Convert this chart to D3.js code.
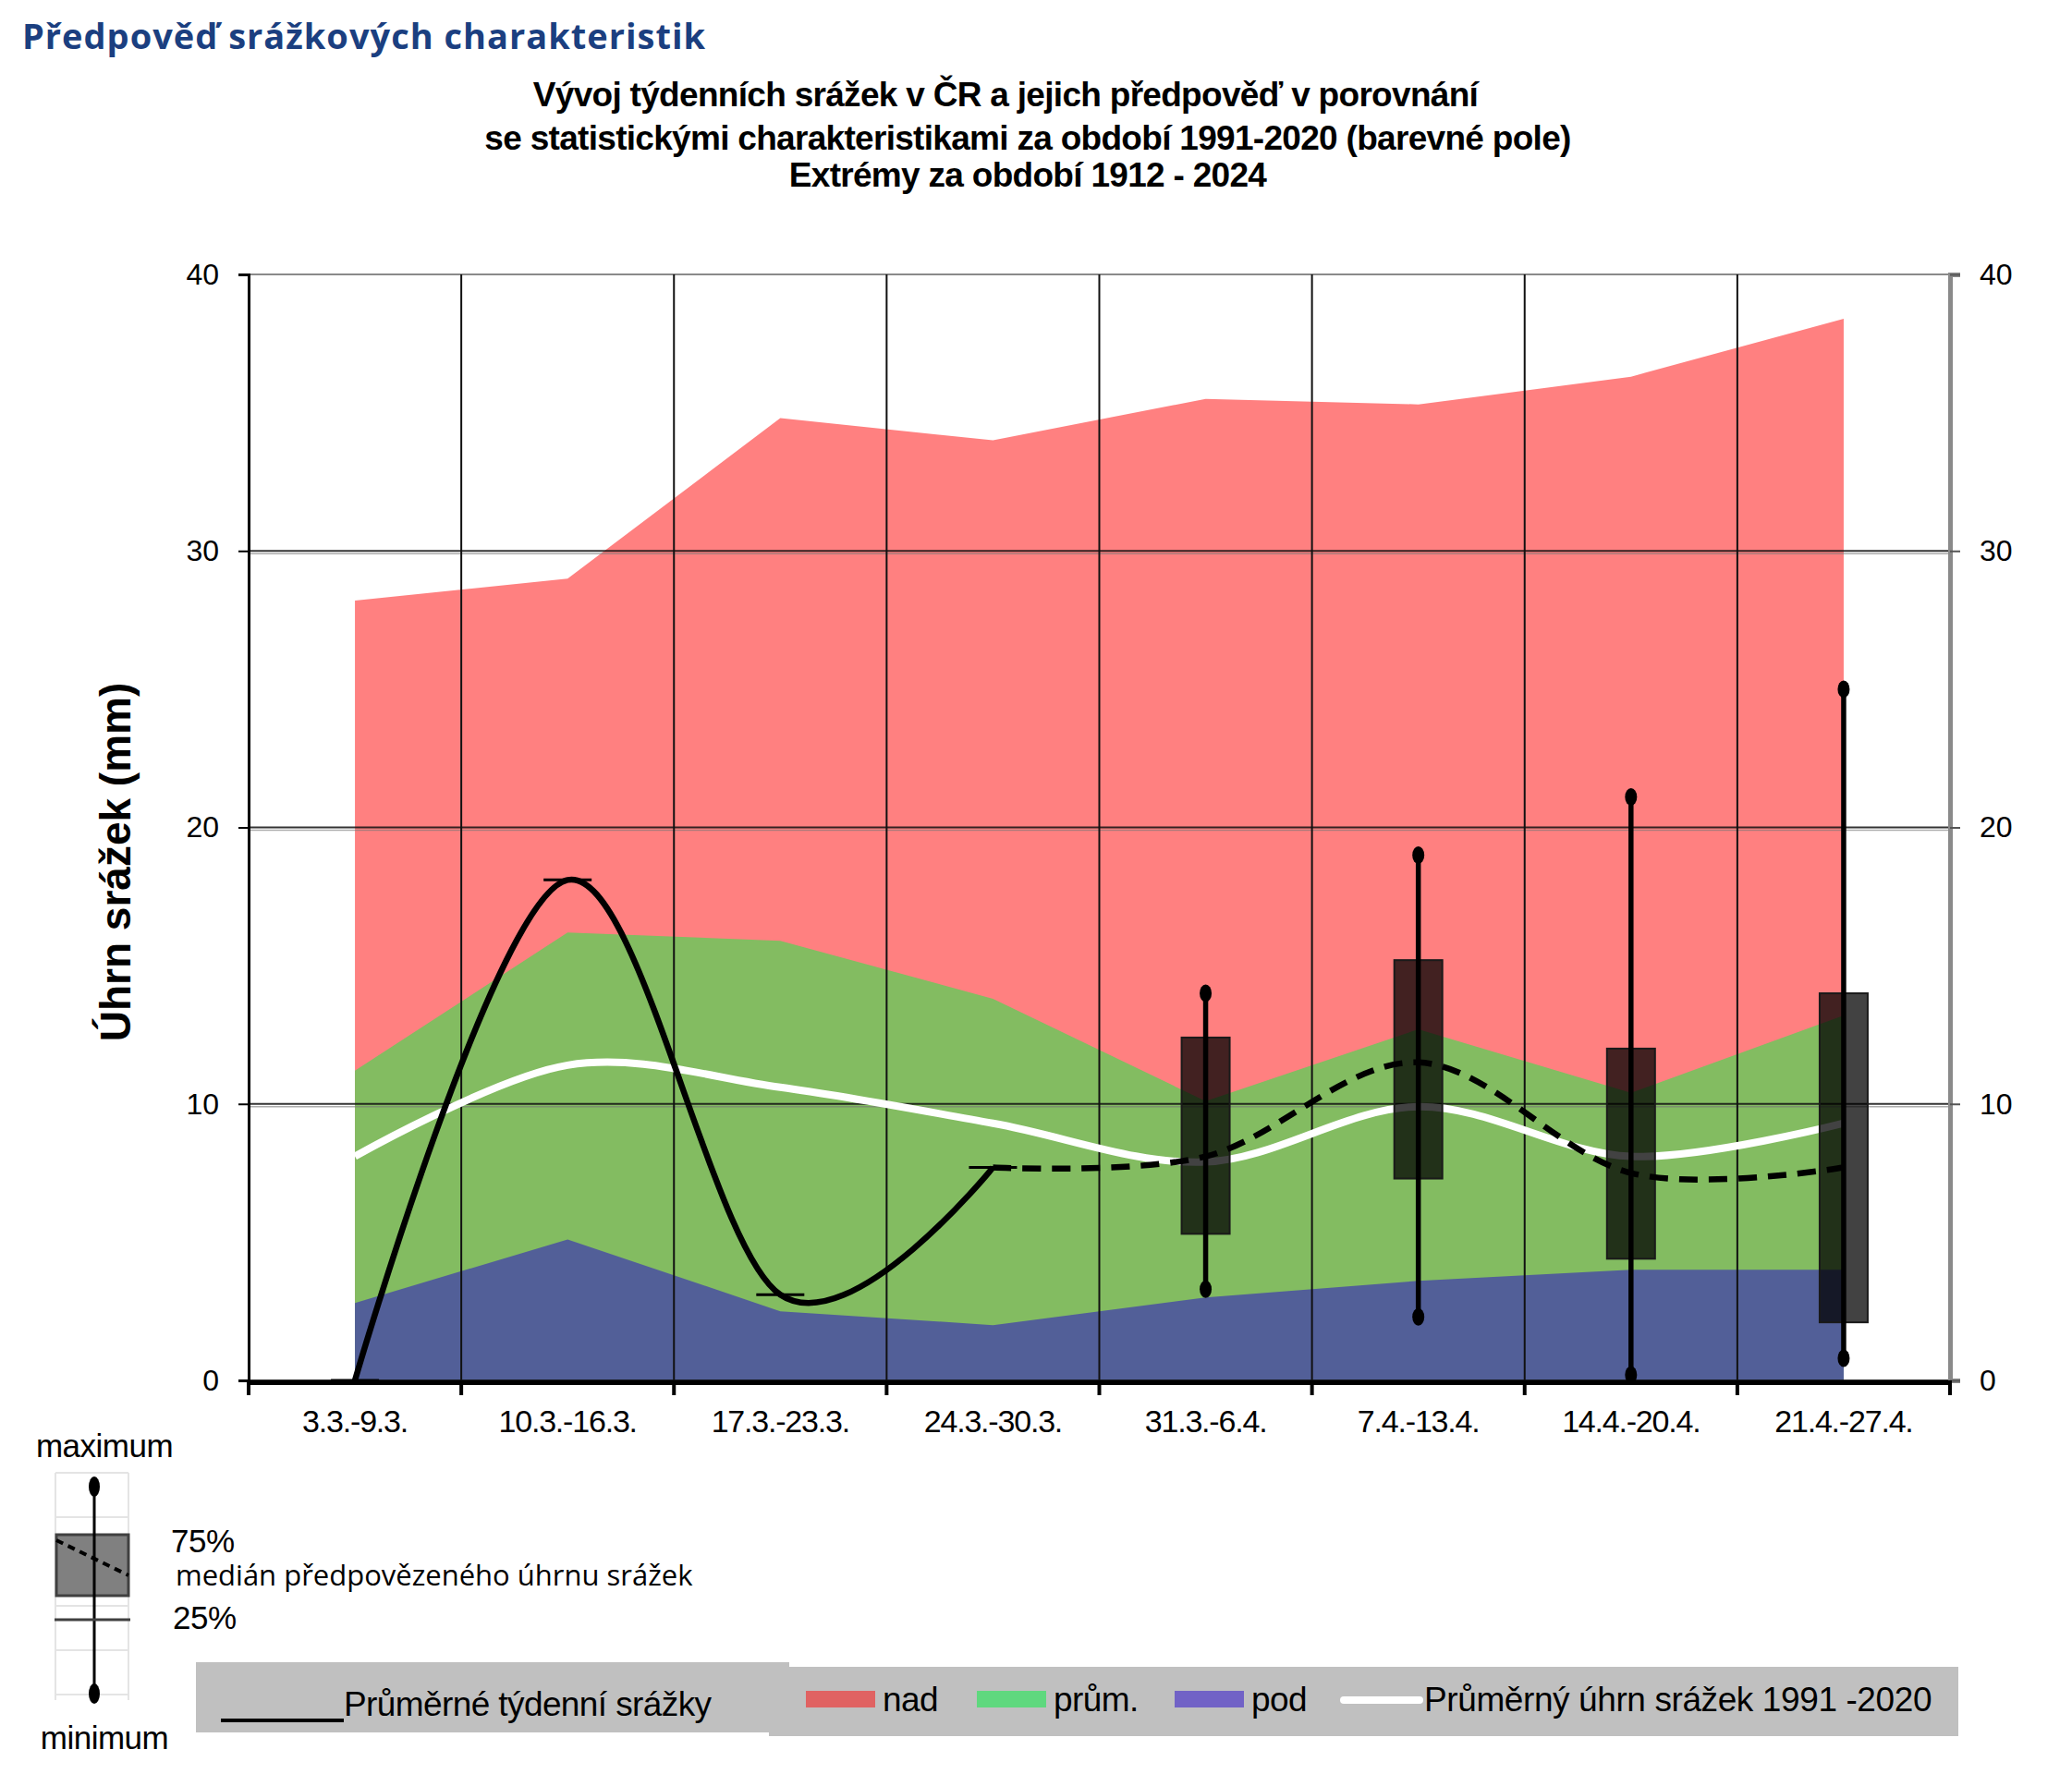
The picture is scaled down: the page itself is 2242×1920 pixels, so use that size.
<!DOCTYPE html>
<html>
<head>
<meta charset="utf-8">
<script src="https://cdn.jsdelivr.net/npm/d3@7"></script>
<style>
  body { margin: 0; background: #fff; }
  svg { display: block; }
</style>
</head>
<body>
<svg id="chart" width="2242" height="1920"></svg>
<script>
// --- data (mm of weekly precipitation) ---
const weeks = ["3.3.-9.3.", "10.3.-16.3.", "17.3.-23.3.", "24.3.-30.3.",
               "31.3.-6.4.", "7.4.-13.4.", "14.4.-20.4.", "21.4.-27.4."];
const extremeMax   = [28.2, 29.0, 34.8, 34.0, 35.5, 35.3, 36.3, 38.4];
const upperNormal  = [11.2, 16.2, 15.9, 13.8, 10.1, 12.7, 10.4, 13.2];
const lowerNormal  = [2.8, 5.1, 2.5, 2.0, 3.0, 3.6, 4.0, 4.0];
const normalMean   = [8.1, 11.4, 10.6, 9.3, 7.9, 9.9, 8.1, 9.3];

const observedWeeks = ["3.3.-9.3.", "10.3.-16.3.", "17.3.-23.3.", "24.3.-30.3."];
const observed      = [0, 18.1, 3.1, 7.7];

const medianWeeks    = ["24.3.-30.3.", "31.3.-6.4.", "7.4.-13.4.", "14.4.-20.4.", "21.4.-27.4."];
const forecastMedian = [7.7, 8.1, 11.5, 7.5, 7.7];

const boxWeeks    = ["31.3.-6.4.", "7.4.-13.4.", "14.4.-20.4.", "21.4.-27.4."];
const forecastMin = [3.3, 2.3, 0.2, 0.8];
const forecastQ1  = [5.3, 7.3, 4.4, 2.1];
const forecastQ3  = [12.4, 15.2, 12.0, 14.0];
const forecastMax = [14.0, 19.0, 21.1, 25.0];

const yTicks = [0, 10, 20, 30, 40];

const svg = d3.select("#chart");
const plotLeft = 269, plotRight = 2110, plotTop = 297, plotBottom = 1494;

const x = d3.scaleBand().domain(weeks).range([plotLeft, plotRight]).padding(0);
const cx = d => x(d) + x.bandwidth() / 2;
const y = d3.scaleLinear().domain([0, 40]).range([plotBottom, plotTop]);

// headings
svg.append("text")
    .attr("x", 24).attr("y", 53)
    .attr("font-family", "Open Sans, sans-serif")
    .attr("font-weight", 700)
    .attr("font-size", 38)
    .attr("letter-spacing", 1)
    .attr("fill", "#1b3f80")
    .text("Předpověď srážkových charakteristik");

const titleLines = [
    ["Vývoj týdenních srážek v ČR a jejich předpověď v porovnání", 1088, 115],
    ["se statistickými charakteristikami za období 1991-2020 (barevné pole)", 1112, 162],
    ["Extrémy za období 1912 - 2024", 1112, 202]
];
titleLines.forEach(([t, tx, ty]) => {
    svg.append("text")
        .attr("x", tx).attr("y", ty)
        .attr("text-anchor", "middle")
        .attr("font-family", "Liberation Sans, Arial, sans-serif")
        .attr("font-weight", "bold")
        .attr("font-size", 37)
        .attr("letter-spacing", -0.7)
        .text(t);
});

// colour fields
const area = vals => d3.area()
    .x((d, i) => cx(weeks[i]))
    .y0(y(0))
    .y1((d, i) => y(vals[i]));

svg.append("path").datum(extremeMax).attr("fill", "#ff8080").attr("d", area(extremeMax));
svg.append("path").datum(upperNormal).attr("fill", "#83bc61").attr("d", area(upperNormal));
svg.append("path").datum(lowerNormal).attr("fill", "#525f98").attr("d", area(lowerNormal));

// grid
const grid = svg.append("g");
yTicks.forEach(t => {
    if (t === 40) {
        grid.append("line").attr("x1", plotLeft).attr("x2", plotRight)
            .attr("y1", y(t)).attr("y2", y(t))
            .attr("stroke", "#8a8a8a").attr("stroke-width", 2);
    } else {
        grid.append("line").attr("x1", plotLeft).attr("x2", plotRight)
            .attr("y1", y(t)).attr("y2", y(t))
            .attr("stroke", "#111").attr("stroke-opacity", 0.85).attr("stroke-width", 2);
        grid.append("line").attr("x1", plotLeft).attr("x2", plotRight)
            .attr("y1", y(t) + 3).attr("y2", y(t) + 3)
            .attr("stroke", "#777").attr("stroke-opacity", 0.6).attr("stroke-width", 1.5);
    }
});
weeks.slice(1).forEach(w => {
    grid.append("line").attr("x1", x(w)).attr("x2", x(w))
        .attr("y1", plotTop).attr("y2", plotBottom)
        .attr("stroke", "#111").attr("stroke-width", 2);
});

// mean 1991-2020
const smooth = d3.curveCatmullRom.alpha(0);
svg.append("path")
    .datum(normalMean)
    .attr("fill", "none")
    .attr("stroke", "#fff")
    .attr("stroke-width", 8)
    .attr("d", d3.line().x((d, i) => cx(weeks[i])).y(d => y(d)).curve(smooth));

// forecast boxes
const boxW = 52;
boxWeeks.forEach((w, i) => {
    svg.append("rect")
        .attr("x", cx(w) - boxW / 2).attr("width", boxW)
        .attr("y", y(forecastQ3[i])).attr("height", y(forecastQ1[i]) - y(forecastQ3[i]))
        .attr("fill", "#000").attr("fill-opacity", 0.74)
        .attr("stroke", "#1a1a1a").attr("stroke-width", 2);
});

// observed weekly precipitation
svg.append("path")
    .datum(observed)
    .attr("fill", "none")
    .attr("stroke", "#000")
    .attr("stroke-width", 6.5)
    .attr("d", d3.line().x((d, i) => cx(observedWeeks[i])).y(d => y(d)).curve(smooth));
observedWeeks.forEach((w, i) => {
    svg.append("line")
        .attr("x1", cx(w) - 26).attr("x2", cx(w) + 26)
        .attr("y1", y(observed[i])).attr("y2", y(observed[i]))
        .attr("stroke", "#000").attr("stroke-width", 3);
});

// forecast median
svg.append("path")
    .datum(forecastMedian)
    .attr("fill", "none")
    .attr("stroke", "#000")
    .attr("stroke-width", 6.5)
    .attr("stroke-dasharray", "20,12")
    .attr("d", d3.line().x((d, i) => cx(medianWeeks[i])).y(d => y(d)).curve(smooth));

// whiskers
boxWeeks.forEach((w, i) => {
    svg.append("line")
        .attr("x1", cx(w)).attr("x2", cx(w))
        .attr("y1", y(forecastMax[i])).attr("y2", y(forecastMin[i]))
        .attr("stroke", "#000").attr("stroke-width", 5.5);
    [forecastMax[i], forecastMin[i]].forEach(v => {
        svg.append("ellipse")
            .attr("cx", cx(w)).attr("cy", y(v))
            .attr("rx", 6.5).attr("ry", 9.5)
            .attr("fill", "#000");
    });
});

// axes
const yAxisL = svg.append("g").attr("transform", `translate(${plotLeft},0)`)
    .call(d3.axisLeft(y).tickValues(yTicks).tickSize(11).tickPadding(21));
yAxisL.select(".domain").attr("stroke", "#000").attr("stroke-width", 3);
yAxisL.selectAll(".tick line").attr("stroke", "#000").attr("stroke-width", 2);
yAxisL.selectAll("text").attr("font-family", "Liberation Sans, Arial, sans-serif").attr("font-size", 32).attr("fill", "#000");

const yAxisR = svg.append("g").attr("transform", `translate(${plotRight},0)`)
    .call(d3.axisRight(y).tickValues(yTicks).tickSize(11).tickPadding(21));
yAxisR.select(".domain").attr("stroke", "#8a8a8a").attr("stroke-width", 5);
yAxisR.selectAll(".tick line").attr("stroke", "#555").attr("stroke-width", 2);
yAxisR.selectAll("text").attr("font-family", "Liberation Sans, Arial, sans-serif").attr("font-size", 32).attr("fill", "#000");

const xAxis = svg.append("g").attr("transform", `translate(0,${plotBottom + 2})`)
    .call(d3.axisBottom(x).tickSize(0).tickPadding(30));
xAxis.select(".domain").attr("stroke", "#000").attr("stroke-width", 5);
xAxis.selectAll("text")
    .attr("font-family", "Liberation Sans, Arial, sans-serif")
    .attr("font-size", 34)
    .attr("letter-spacing", -1.2)
    .attr("fill", "#000");
weeks.concat(["end"]).forEach((w, i) => {
    const bx = i < weeks.length ? x(w) : plotRight;
    svg.append("line").attr("x1", bx).attr("x2", bx)
        .attr("y1", plotBottom).attr("y2", plotBottom + 16)
        .attr("stroke", "#000").attr("stroke-width", 4);
});

svg.append("text")
    .attr("transform", "translate(141,933) rotate(-90)")
    .attr("text-anchor", "middle")
    .attr("font-family", "Liberation Sans, Arial, sans-serif")
    .attr("font-weight", "bold")
    .attr("font-size", 46)
    .text("Úhrn srážek (mm)");

// box legend (bottom left)
const bl = svg.append("g");
const legendFont = "Liberation Sans, Arial, sans-serif";
[1594, 1642, 1690, 1738, 1786, 1834].forEach(gy => {
    bl.append("line").attr("x1", 60).attr("x2", 139).attr("y1", gy).attr("y2", gy)
        .attr("stroke", "#e4e4e4").attr("stroke-width", 2);
});
[60, 139].forEach(gx => {
    bl.append("line").attr("x1", gx).attr("x2", gx).attr("y1", 1594).attr("y2", 1840)
        .attr("stroke", "#e4e4e4").attr("stroke-width", 2);
});
bl.append("rect").attr("x", 61).attr("y", 1661).attr("width", 78).attr("height", 66)
    .attr("fill", "#808080").attr("stroke", "#404040").attr("stroke-width", 3);
bl.append("line").attr("x1", 102).attr("x2", 102).attr("y1", 1609).attr("y2", 1833)
    .attr("stroke", "#000").attr("stroke-width", 3);
bl.append("ellipse").attr("cx", 102).attr("cy", 1609).attr("rx", 6).attr("ry", 11).attr("fill", "#000");
bl.append("ellipse").attr("cx", 102).attr("cy", 1833).attr("rx", 6).attr("ry", 11).attr("fill", "#000");
bl.append("line").attr("x1", 61).attr("x2", 139).attr("y1", 1667).attr("y2", 1705)
    .attr("stroke", "#000").attr("stroke-width", 4).attr("stroke-dasharray", "8,6");
bl.append("line").attr("x1", 59).attr("x2", 141).attr("y1", 1753).attr("y2", 1753)
    .attr("stroke", "#404040").attr("stroke-width", 3);
bl.append("text").attr("x", 113).attr("y", 1577).attr("text-anchor", "middle")
    .attr("font-family", legendFont).attr("font-size", 35).attr("letter-spacing", -0.5).text("maximum");
bl.append("text").attr("x", 113).attr("y", 1893).attr("text-anchor", "middle")
    .attr("font-family", legendFont).attr("font-size", 35).attr("letter-spacing", -0.5).text("minimum");
bl.append("text").attr("x", 185).attr("y", 1680)
    .attr("font-family", legendFont).attr("font-size", 35).attr("letter-spacing", -0.5).text("75%");
bl.append("text").attr("x", 187).attr("y", 1763)
    .attr("font-family", legendFont).attr("font-size", 35).attr("letter-spacing", -0.5).text("25%");
bl.append("text").attr("x", 190).attr("y", 1716)
    .attr("font-family", "Open Sans, sans-serif").attr("font-size", 31).text("medián předpovězeného úhrnu srážek");

// series legend (bottom strip)
const lg = svg.append("g");
lg.append("rect").attr("x", 212).attr("y", 1799).attr("width", 642).attr("height", 76).attr("fill", "#c0c0c0");
lg.append("rect").attr("x", 832).attr("y", 1804).attr("width", 1287).attr("height", 75).attr("fill", "#c0c0c0");
lg.append("line").attr("x1", 239).attr("x2", 372).attr("y1", 1862).attr("y2", 1862)
    .attr("stroke", "#000").attr("stroke-width", 4);
lg.append("text").attr("x", 372).attr("y", 1857)
    .attr("font-family", legendFont).attr("font-size", 37).attr("letter-spacing", -0.6)
    .text("Průměrné týdenní srážky");

const swatches = [
    ["nad", "#e06262", 872],
    ["prům.", "#5fd87e", 1057],
    ["pod", "#7162c6", 1271]
];
swatches.forEach(([label, color, sx]) => {
    lg.append("rect").attr("x", sx).attr("y", 1830).attr("width", 75).attr("height", 18).attr("fill", color);
    lg.append("text").attr("x", sx + 83).attr("y", 1852)
        .attr("font-family", legendFont).attr("font-size", 37).attr("letter-spacing", -0.6).text(label);
});
lg.append("line").attr("x1", 1454).attr("x2", 1536).attr("y1", 1840).attr("y2", 1840)
    .attr("stroke", "#fff").attr("stroke-width", 8).attr("stroke-linecap", "round");
lg.append("text").attr("x", 1541).attr("y", 1852)
    .attr("font-family", legendFont).attr("font-size", 37).attr("letter-spacing", -0.4)
    .text("Průměrný úhrn srážek 1991 -2020");
</script>
</body>
</html>
